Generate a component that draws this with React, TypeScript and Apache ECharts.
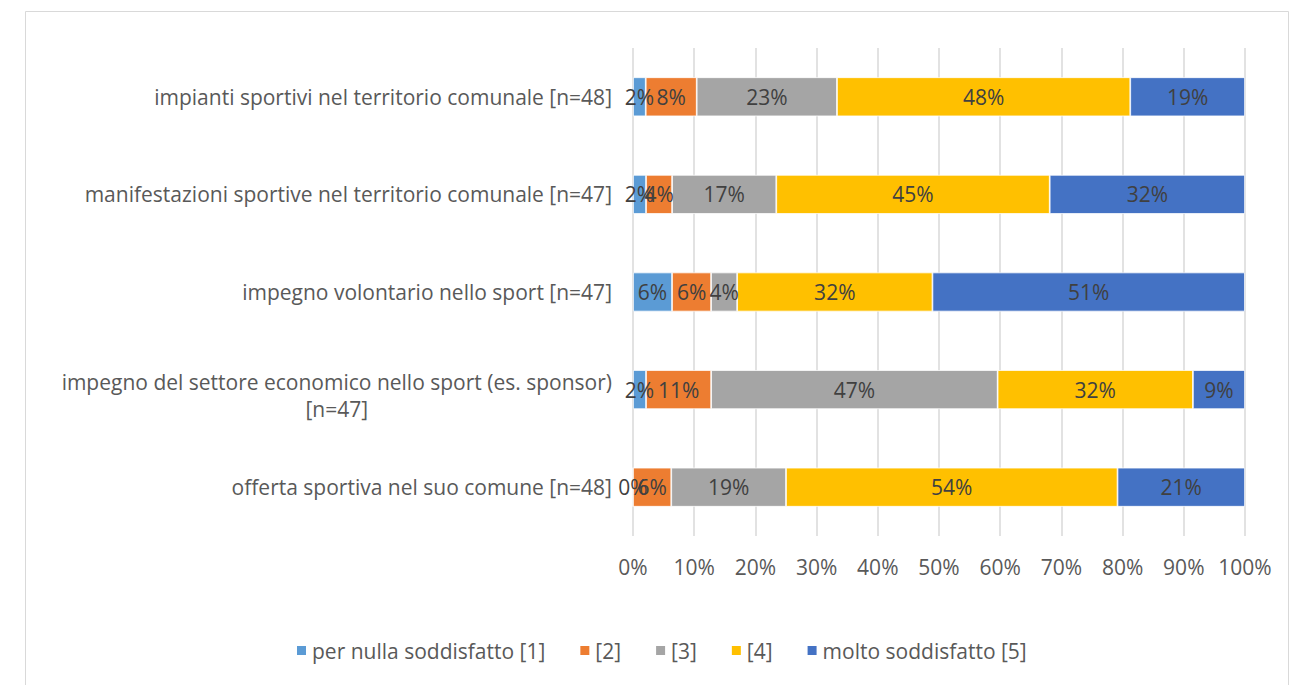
import React, { useEffect, useRef } from "react";
import * as echarts from "echarts";

const categories = [
  "offerta sportiva nel suo comune [n=48]",
  "impegno del settore economico nello sport (es. sponsor) [n=47]",
  "impegno volontario nello sport [n=47]",
  "manifestazioni sportive nel territorio comunale [n=47]",
  "impianti sportivi nel territorio comunale [n=48]",
];
const seriesNames = [
  "per nulla soddisfatto [1]",
  "[2]",
  "[3]",
  "[4]",
  "molto soddisfatto [5]",
];
const s1 = [0, 2.13, 6.38, 2.13, 2.08];
const s2 = [6.25, 10.64, 6.38, 4.26, 8.33];
const s3 = [18.75, 46.81, 4.26, 17.02, 22.92];
const s4 = [54.17, 31.91, 31.91, 44.68, 47.92];
const s5 = [20.83, 8.51, 51.06, 31.91, 18.75];
const seriesValues = [s1, s2, s3, s4, s5];
const colors = ["#5B9BD5", "#ED7D31", "#A5A5A5", "#FFC000", "#4472C4"];
const xTicks = [0, 10, 20, 30, 40, 50, 60, 70, 80, 90, 100];

const FONT = "'Open Sans', 'Noto Sans', sans-serif";
const TEXT = "#595959";
const FS = 21;

export default function App() {
  const ref = useRef<HTMLDivElement>(null);
  useEffect(() => {
    document.body.style.margin = "0";
    const chart = echarts.init(ref.current!, undefined, { renderer: "svg" });
    chart.setOption({
      animation: false,
      backgroundColor: "#fff",
      textStyle: { fontFamily: FONT },
      graphic: [
        {
          type: "rect",
          shape: { x: 25.5, y: 11.5, width: 1263, height: 700 },
          style: { fill: "none", stroke: "#d9d9d9", lineWidth: 1 },
          silent: true,
        },
      ],
      grid: { left: 633, right: 59, top: 48, bottom: 149, containLabel: false },
      legend: {
        bottom: 19,
        left: 290,
        itemWidth: 11,
        itemHeight: 11,
        itemGap: 33,
        icon: "rect",
        textStyle: { color: TEXT, fontSize: FS, fontFamily: FONT },
        data: seriesNames,
      },
      xAxis: {
        type: "value",
        min: 0,
        max: 100,
        interval: 10,
        axisLine: { show: false },
        axisTick: { show: false },
        splitLine: { lineStyle: { color: "#d9d9d9", width: 1.5 } },
        axisLabel: {
          color: TEXT,
          fontSize: FS,
          fontFamily: FONT,
          margin: 20,
          formatter: (v: number) => (xTicks.includes(v) ? v + "%" : ""),
        },
      },
      yAxis: {
        type: "category",
        data: categories,
        axisLine: { show: false },
        axisTick: { show: false },
        axisLabel: {
          color: TEXT,
          fontSize: FS,
          fontFamily: FONT,
          margin: 21,
          overflow: "none",
          formatter: (v: string) => {
            if (v.indexOf("(es.") >= 0) {
              const i = v.lastIndexOf(" [");
              return "{e| }\n{c|" + v.slice(0, i) + "}\n{c|" + v.slice(i + 1) + "}";
            }
            return "{r|" + v + "}";
          },
          rich: {
            e: {
              fontSize: 1,
              lineHeight: 12,
            },
            c: {
              align: "center",
              color: TEXT,
              fontSize: FS,
              fontFamily: FONT,
              lineHeight: 27,
            },
            r: {
              color: TEXT,
              fontSize: FS,
              fontFamily: FONT,
            },
          },
        },
      },
      series: seriesNames.map((name, i) => ({
        name,
        type: "bar",
        stack: "total",
        barWidth: "40%",
        data: seriesValues[i],
        itemStyle: { color: colors[i], borderColor: "#fff", borderWidth: 0.75 },
        label: {
          show: true,
          position: "inside",
          color: "#404040",
          fontSize: FS,
          fontFamily: FONT,
          formatter: (p: any) => Math.round(p.value) + "%",
        },
      })),
    });
    return () => chart.dispose();
  }, []);
  return <div ref={ref} style={{ width: 1304, height: 685 }} />;
}
